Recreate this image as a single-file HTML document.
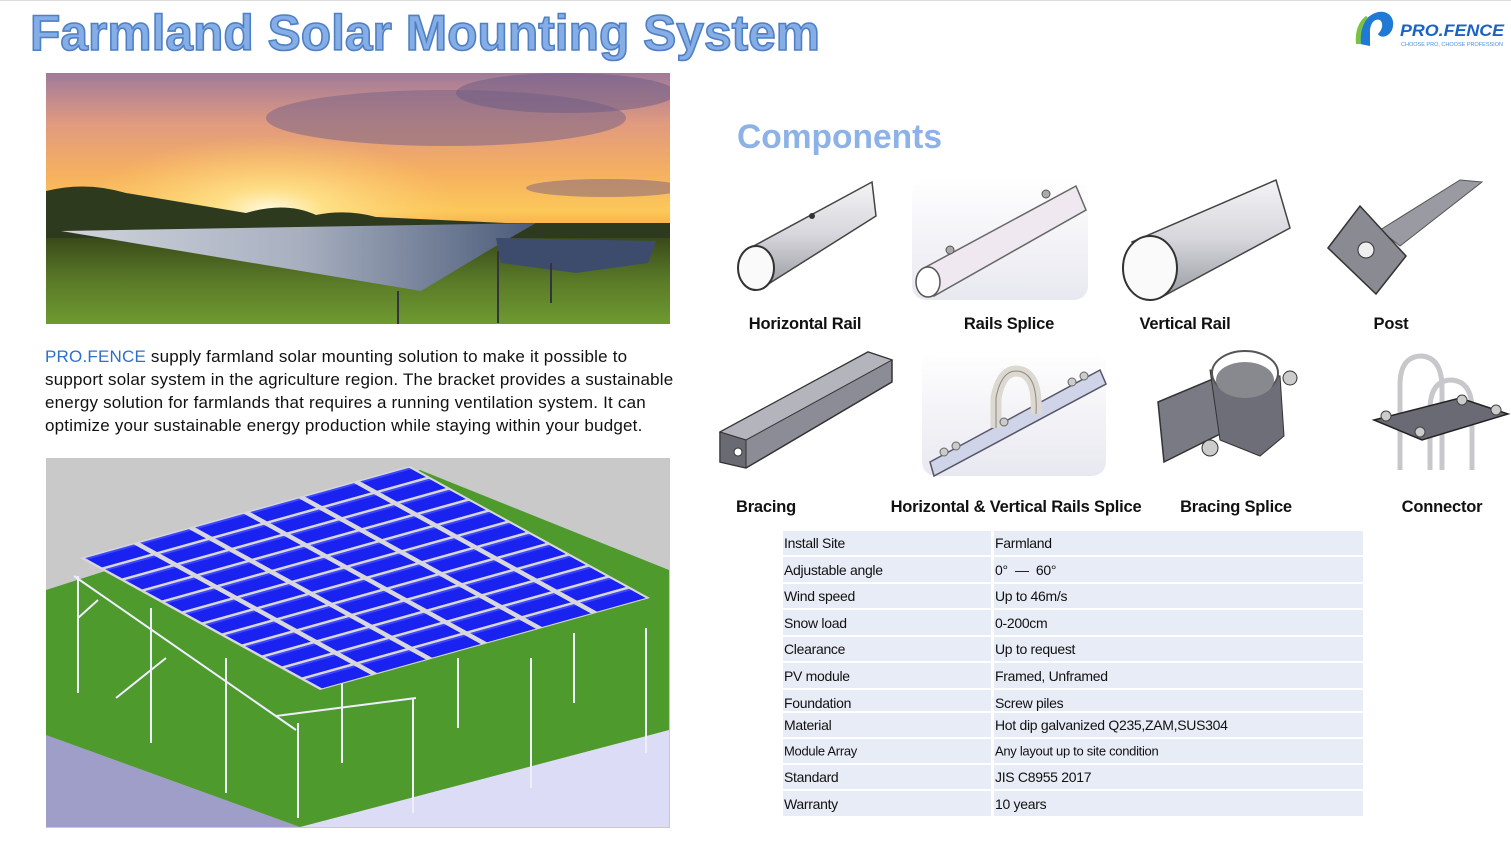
<!DOCTYPE html>
<html><head><meta charset="utf-8">
<style>
html,body{margin:0;padding:0;background:#fff;}
body{width:1511px;height:843px;position:relative;overflow:hidden;font-family:"Liberation Sans",sans-serif;}
.abs{position:absolute;}
.lbl{position:absolute;font-weight:bold;font-size:16.5px;color:#111;white-space:nowrap;transform:translateX(-50%);letter-spacing:-0.2px;}
.r{position:absolute;left:783px;width:580px;background:#e8ecf6;font-size:14px;color:#111;letter-spacing:-0.3px;}
.r span{position:absolute;top:50%;transform:translateY(-50%);white-space:nowrap;}
.r .a{left:1px;}
.r .b{left:212px;}
.r::after{content:"";position:absolute;left:208px;top:0;bottom:0;width:3px;background:#fff;}
</style></head><body>
<div class="abs" style="left:0;top:0;width:1511px;height:1px;background:#ddd"></div>
<svg class="abs" style="left:0;top:0" width="840" height="70">
<text x="30" y="50" textLength="790" lengthAdjust="spacingAndGlyphs" font-family="Liberation Sans" font-weight="bold" font-size="50" fill="#86aee6" stroke="#4f7fc4" stroke-width="1.6">Farmland Solar Mounting System</text>
</svg>
<svg class="abs" style="top:8px;left:1352px" width="159" height="44">
<path d="M8 36 C6 20 12 8 26 4 C38 2 44 12 40 22 C36 30 28 30 26 26 C30 22 32 16 28 12 C22 10 18 16 18 24 L18 38 Z" fill="#1f7ad6"/>
<path d="M4 36 C3 24 6 14 14 8 L16 10 C10 16 8 26 9 36 Z" fill="#7cc242"/>
<text x="48" y="28" font-family="Liberation Sans" font-weight="bold" font-style="italic" font-size="17" fill="#1a63c6" textLength="104" lengthAdjust="spacingAndGlyphs">PRO.FENCE</text>
<text x="49" y="38" font-family="Liberation Sans" font-size="5.5" fill="#4a90d9" textLength="102" lengthAdjust="spacingAndGlyphs">CHOOSE PRO,  CHOOSE PROFESSION</text>
</svg>

<!-- photo -->
<svg class="abs" style="left:46px;top:73px" width="624" height="251">
<defs>
<linearGradient id="sky" x1="0" y1="0" x2="0" y2="1">
<stop offset="0" stop-color="#a07a9a"/><stop offset="0.2" stop-color="#e09a80"/><stop offset="0.4" stop-color="#f6b060"/><stop offset="0.55" stop-color="#fcc85a"/><stop offset="0.65" stop-color="#f5a040"/></linearGradient>
<radialGradient id="sun" cx="0.36" cy="0.55" r="0.3"><stop offset="0" stop-color="#fffbe8"/><stop offset="0.3" stop-color="#ffe690" stop-opacity="0.8"/><stop offset="1" stop-color="#ffd070" stop-opacity="0"/></radialGradient>
<linearGradient id="fld" x1="0" y1="0" x2="0" y2="1"><stop offset="0" stop-color="#3a4a1a"/><stop offset="0.5" stop-color="#5a7a28"/><stop offset="1" stop-color="#6e9a30"/></linearGradient>
<linearGradient id="pan" x1="0" y1="0" x2="1" y2="0"><stop offset="0" stop-color="#d0d4dc"/><stop offset="0.5" stop-color="#a8b0c0"/><stop offset="1" stop-color="#4a5a78"/></linearGradient>
</defs>
<rect width="624" height="251" fill="url(#sky)"/>
<ellipse cx="400" cy="45" rx="180" ry="28" fill="#7a6488" opacity="0.55"/>
<ellipse cx="520" cy="20" rx="110" ry="20" fill="#6a5a86" opacity="0.5"/>
<ellipse cx="560" cy="115" rx="80" ry="9" fill="#7a6080" opacity="0.5"/>
<rect width="624" height="251" fill="url(#sun)"/>
<path d="M0 118 Q40 108 80 120 L200 140 Q240 128 270 142 Q300 136 330 144 L460 150 L624 150 L624 251 L0 251Z" fill="#2e3a1e"/>
<rect x="0" y="165" width="624" height="86" fill="url(#fld)"/>
<path d="M15 158 L490 150 L445 176 L375 218 Z" fill="url(#pan)"/>
<path d="M450 165 L610 168 L602 190 L530 200 L455 190Z" fill="#3d4c6c"/>
<g stroke="#334" stroke-width="2"><line x1="352" y1="218" x2="352" y2="270"/><line x1="452" y1="178" x2="452" y2="250"/><line x1="505" y1="190" x2="505" y2="230"/></g>
</svg>

<div class="abs" style="left:45px;top:345px;width:660px;font-size:17px;line-height:23px;color:#111;letter-spacing:0.2px;white-space:nowrap">
<span style="color:#2f6fcc">PRO.FENCE</span> supply farmland solar mounting solution to make it possible to<br>support solar system in the agriculture region. The bracket provides a sustainable<br>energy solution for farmlands that requires a running ventilation system. It can<br>optimize your sustainable energy production while staying within your budget.
</div>

<!-- render -->
<svg class="abs" style="left:46px;top:458px" width="624" height="370">
<defs>
<pattern id="pv" patternUnits="userSpaceOnUse" width="0.1667" height="0.0833">
<rect x="0.01" y="0.008" width="0.148" height="0.07" fill="#1a22f0"/>
<rect x="0.01" y="0.008" width="0.148" height="0.01" fill="#3c46ff"/>
</pattern>
</defs>
<rect width="624" height="370" fill="#c9c9c9"/>
<path d="M0 277 L254 369 L0 369Z" fill="#9e9ec8"/>
<path d="M623 272 L623 369 L254 369Z" fill="#dcdcf6"/>
<path d="M0 132 L374 12 L623 112 L623 272 L254 369 L0 277Z" fill="#4e9a2c"/>
<g stroke="#eef" stroke-width="2" fill="none">
<line x1="32" y1="118" x2="32" y2="235"/><line x1="105" y1="150" x2="105" y2="285"/><line x1="180" y1="200" x2="180" y2="335"/><line x1="252" y1="265" x2="252" y2="360"/>
<line x1="296" y1="225" x2="296" y2="305"/><line x1="367" y1="240" x2="367" y2="355"/><line x1="485" y1="200" x2="485" y2="330"/><line x1="600" y1="170" x2="600" y2="295"/><line x1="528" y1="175" x2="528" y2="245"/><line x1="412" y1="200" x2="412" y2="270"/>
<line x1="28" y1="118" x2="250" y2="272"/><line x1="230" y1="258" x2="370" y2="240"/><line x1="32" y1="160" x2="52" y2="142"/><line x1="70" y1="240" x2="120" y2="200"/>
</g>
<g transform="matrix(330,-92,240,132,34,100)">
<rect x="0" y="0" width="1" height="1" fill="#d8d8dc"/>
<rect x="0" y="0" width="1" height="1" fill="url(#pv)"/>
</g>
</svg>

<svg class="abs" style="left:735px;top:112px" width="220" height="50">
<text x="2" y="36" textLength="205" lengthAdjust="spacingAndGlyphs" font-family="Liberation Sans" font-weight="bold" font-size="34" fill="#8db2e8">Components</text>
</svg>

<svg class="abs" style="left:700px;top:170px" width="811" height="320">
<defs>
<linearGradient id="m" x1="0" y1="0" x2="0" y2="1"><stop offset="0" stop-color="#f4f4f6"/><stop offset="0.5" stop-color="#d6d6dc"/><stop offset="1" stop-color="#9a9aa2"/></linearGradient>
<linearGradient id="bgp" x1="0" y1="0" x2="0" y2="1"><stop offset="0" stop-color="#fff"/><stop offset="1" stop-color="#e8e8f0"/></linearGradient>
</defs>
<path d="M50 78 L172 12 L176 46 L62 118 Z" fill="url(#m)" stroke="#444" stroke-width="1.5"/>
<ellipse cx="56" cy="98" rx="18" ry="22" fill="#fafafa" stroke="#333" stroke-width="2"/>
<circle cx="112" cy="46" r="3" fill="#333"/>
<rect x="212" y="8" width="176" height="122" rx="14" fill="url(#bgp)"/>
<path d="M224 98 L376 16 L386 40 L234 126 Z" fill="#f0e8f0" stroke="#666" stroke-width="1.5"/>
<ellipse cx="228" cy="112" rx="12" ry="15" fill="#fff" stroke="#555" stroke-width="1.5"/>
<circle cx="250" cy="80" r="4" fill="#aaa" stroke="#555"/><circle cx="346" cy="24" r="4" fill="#aaa" stroke="#555"/>
<path d="M432 72 L576 10 L590 58 L460 128 Z" fill="url(#m)" stroke="#444" stroke-width="1.5"/>
<ellipse cx="450" cy="98" rx="27" ry="32" fill="#fafafa" stroke="#333" stroke-width="2"/>
<path d="M680 60 L760 10 L782 12 L700 76 Z" fill="#9a9aa2" stroke="#555"/>
<path d="M628 78 L660 36 L706 86 L676 124 Z" fill="#8a8a92" stroke="#333" stroke-width="1.5"/>
<circle cx="666" cy="80" r="8" fill="#eee" stroke="#333"/>
<!-- bracing -->
<path d="M20 262 L168 182 L192 190 L192 212 L46 298 L20 292 Z" fill="#8c8c96" stroke="#333" stroke-width="1.5"/>
<path d="M20 262 L168 182 L192 190 L46 270Z" fill="#b4b4bc" stroke="#333"/>
<path d="M20 262 L46 270 L46 298 L20 292Z" fill="#6a6a72" stroke="#333"/>
<circle cx="38" cy="282" r="4" fill="#fff" stroke="#333"/>
<!-- H&V splice -->
<rect x="222" y="180" width="184" height="126" rx="14" fill="url(#bgp)"/>
<path d="M230 292 L400 200 L406 214 L234 306 Z" fill="#d0d4e8" stroke="#556" stroke-width="1.5"/>
<path d="M296 258 L296 228 Q302 196 322 202 Q338 208 336 244" fill="none" stroke="#ddd8d0" stroke-width="11"/>
<path d="M296 258 L296 228 Q302 196 322 202 Q338 208 336 244" fill="none" stroke="#888" stroke-width="1"/>
<g fill="#ccc" stroke="#666"><circle cx="244" cy="282" r="4"/><circle cx="256" cy="276" r="4"/><circle cx="304" cy="252" r="4"/><circle cx="372" cy="212" r="4"/><circle cx="384" cy="206" r="4"/></g>
<!-- bracing splice -->
<path d="M458 232 L520 206 L524 262 L464 292 Z" fill="#7a7a84" stroke="#333" stroke-width="1.5"/>
<path d="M510 200 L520 270 L560 286 L584 266 L580 206Z" fill="#6e6e78" stroke="#333"/>
<ellipse cx="545" cy="203" rx="33" ry="22" fill="#fff" stroke="#555" stroke-width="2"/>
<ellipse cx="545" cy="210" rx="29" ry="18" fill="#88888f"/>
<circle cx="510" cy="278" r="8" fill="#ccc" stroke="#333"/>
<circle cx="590" cy="208" r="7" fill="#ccc" stroke="#333"/>
<!-- connector -->
<path d="M700 300 L700 215 Q700 186 722 186 Q742 188 742 218 L742 300" fill="none" stroke="#c8c8cc" stroke-width="5"/>
<path d="M730 300 L730 240 Q730 210 752 210 Q772 212 772 240 L772 300" fill="none" stroke="#c8c8cc" stroke-width="5"/>
<path d="M674 250 L760 228 L808 244 L722 270 Z" fill="#6a6a74" stroke="#222" stroke-width="1.5"/>
<g fill="#ccc" stroke="#444"><circle cx="686" cy="246" r="5"/><circle cx="720" cy="262" r="5"/><circle cx="796" cy="240" r="5"/><circle cx="762" cy="230" r="5"/></g>
</svg>

<div class="lbl" style="left:805px;top:315px">Horizontal Rail</div>
<div class="lbl" style="left:1009px;top:315px">Rails Splice</div>
<div class="lbl" style="left:1185px;top:315px">Vertical Rail</div>
<div class="lbl" style="left:1391px;top:315px">Post</div>
<div class="lbl" style="left:766px;top:498px">Bracing</div>
<div class="lbl" style="left:1016px;top:498px">Horizontal &amp; Vertical Rails Splice</div>
<div class="lbl" style="left:1236px;top:498px">Bracing Splice</div>
<div class="lbl" style="left:1442px;top:498px">Connector</div>

<div class="r" style="top:531px;height:24px"><span class="a">Install Site</span><span class="b">Farmland</span></div>
<div class="r" style="top:557px;height:25px"><span class="a">Adjustable angle</span><span class="b">0°&nbsp;&nbsp;—&nbsp;&nbsp;60°</span></div>
<div class="r" style="top:584px;height:24px"><span class="a">Wind speed</span><span class="b">Up to 46m/s</span></div>
<div class="r" style="top:610px;height:25px"><span class="a">Snow load</span><span class="b">0-200cm</span></div>
<div class="r" style="top:637px;height:24px"><span class="a">Clearance</span><span class="b">Up to request</span></div>
<div class="r" style="top:663px;height:25px"><span class="a">PV module</span><span class="b">Framed, Unframed</span></div>
<div class="r" style="top:690px;height:21px"><span class="a" style="top:60%">Foundation</span><span class="b" style="top:60%">Screw piles</span></div>
<div class="r" style="top:713px;height:24px"><span class="a">Material</span><span class="b">Hot dip galvanized Q235,ZAM,SUS304</span></div>
<div class="r" style="top:739px;height:24px;font-size:13px"><span class="a">Module Array</span><span class="b">Any layout up to site condition</span></div>
<div class="r" style="top:765px;height:24px"><span class="a">Standard</span><span class="b">JIS C8955 2017</span></div>
<div class="r" style="top:791px;height:25px"><span class="a">Warranty</span><span class="b">10 years</span></div>
</body></html>
